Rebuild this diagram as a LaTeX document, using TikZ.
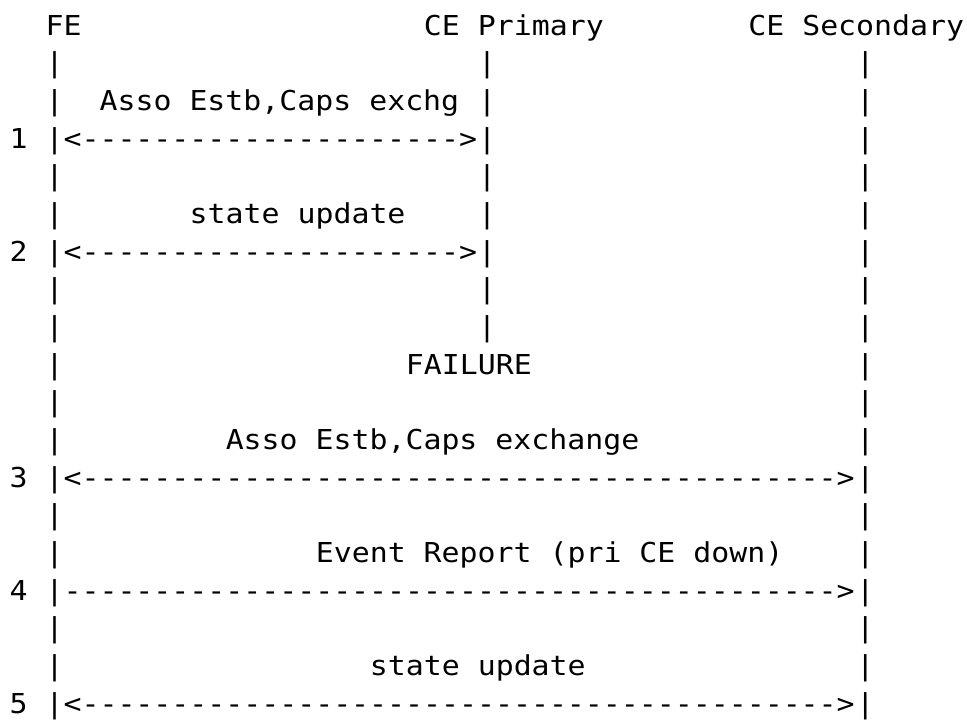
\documentclass[tikz,border=0pt]{standalone}
\usepackage{fontspec}
\setmonofont[FakeStretch=1.09]{DejaVu Sans Mono}
\tikzstyle{ascii}=[font=\ttfamily\fontsize{27.4}{37.7}\selectfont,inner sep=0pt,anchor=base west]

\begin{document}
\begin{tikzpicture}[x=18.02pt,y=-37.67pt]
  \useasboundingbox (0pt,0pt) rectangle (967pt,-721pt);
  \begin{scope}[shift={(-8.7pt,-35pt)}]
  % headers
  \node[ascii] (fe)  at (3,0)  {FE};
  \node[ascii] (cep) at (24,0) {CE Primary};
  \node[ascii] (ces) at (42,0) {CE Secondary};

  % lifelines
  \foreach \r in {1,...,18} {
    \node[ascii] (fe-\r)  at (3,\r)  {|};
    \node[ascii] (ces-\r) at (48,\r) {|};
  }
  \foreach \r in {1,...,8}
    \node[ascii] (cep-\r) at (27,\r) {|};

  % step numbers
  \foreach \n/\r in {1/3,2/6,3/12,4/15,5/18}
    \node[ascii] (n\n) at (1,\r) {\n};

  % messages
  \node[ascii] (m1)   at (6,2)   {Asso Estb,Caps exchg};
  \node[ascii] (a1)   at (4,3)   {<---------------------{}>};
  \node[ascii] (m2)   at (11,5)  {state update};
  \node[ascii] (a2)   at (4,6)   {<---------------------{}>};
  \node[ascii] (fail) at (23,9)  {FAILURE};
  \node[ascii] (m3)   at (13,11) {Asso Estb,Caps exchange};
  \node[ascii] (a3)   at (4,12)  {<------------------------------------------{}>};
  \node[ascii] (m4)   at (18,14) {Event Report (pri CE down)};
  \node[ascii] (a4)   at (4,15)  {-------------------------------------------{}>};
  \node[ascii] (m5)   at (21,17) {state update};
  \node[ascii] (a5)   at (4,18)  {<------------------------------------------{}>};
  \end{scope}
\end{tikzpicture}
\end{document}
